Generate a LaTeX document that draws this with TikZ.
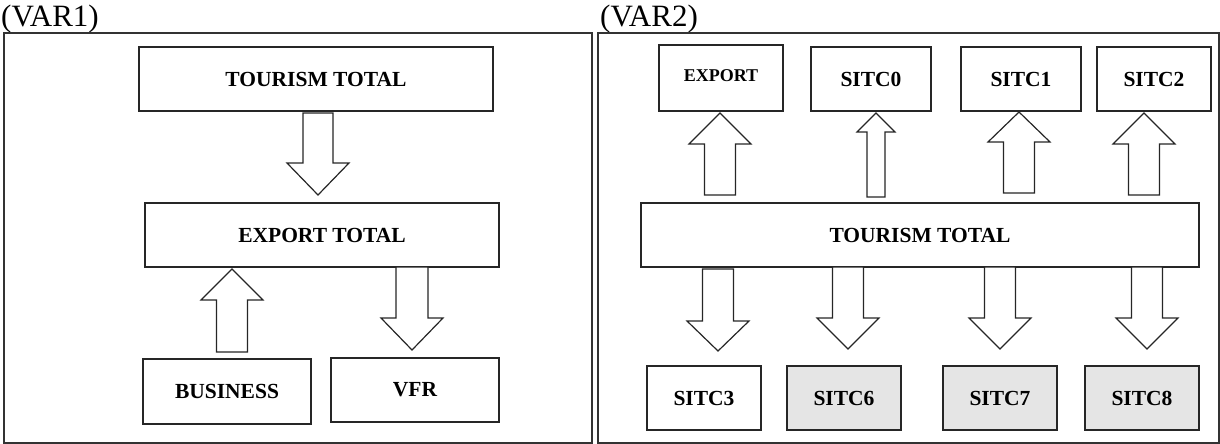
\documentclass[tikz,border=0pt]{standalone}
\usepackage{fontspec}
\setmainfont{Liberation Serif}
\tikzset{
  frame/.style={draw=black!80, line width=1.3pt},
  box/.style={draw=black!85, line width=1.2pt, fill=white, inner sep=0pt,
    font=\fontsize{21.5}{24}\selectfont\bfseries, align=center},
  graybox/.style={box, fill=black!10},
  blockarrow/.style={draw=black!85, line width=1.2pt, fill=white, line join=miter},
  panellabel/.style={anchor=base west, inner sep=0pt, font=\fontsize{31}{33}\selectfont}
}
% block arrow: #1 centre x, #2 tail y, #3 head-base y, #4 tip y, #5 shaft half width, #6 head half width
\newcommand{\blockarr}[6]{%
  \draw[blockarrow] (#1-#5,#2) -- (#1+#5,#2) -- (#1+#5,#3) -- (#1+#6,#3) -- (#1,#4)
    -- (#1-#6,#3) -- (#1-#5,#3) -- cycle;}
\begin{document}
\begin{tikzpicture}[x=1pt, y=-1pt]
\useasboundingbox (0,0) rectangle (1220,444);

% ---------- left panel ----------
\node[panellabel] (lab1) at (1,27) {(VAR1)};
\draw[frame] (4,33) rectangle (592,443);

\node[box, minimum width=354pt, minimum height=64pt] (tt1) at (316,79) {TOURISM TOTAL};
\node[box, minimum width=354pt, minimum height=64pt] (et1) at (322,235) {EXPORT TOTAL};
\node[box, minimum width=168pt, minimum height=65pt] (bus) at (227,391.5) {BUSINESS};
\node[box, minimum width=168pt, minimum height=64pt] (vfr) at (415,390) {VFR};

\blockarr{318}{113}{163}{195}{15}{31}
\blockarr{232}{352}{300}{269}{15.5}{31}
\blockarr{412}{267}{318}{350}{16}{31}

% ---------- right panel ----------
\node[panellabel] (lab2) at (600,27) {(VAR2)};
\draw[frame] (598,33) rectangle (1219,443);

\node[box, minimum width=124pt, minimum height=66pt, font=\fontsize{18}{20}\selectfont\bfseries,
      text depth=4pt] (exp) at (721,78) {EXPORT};
\node[box, minimum width=120pt, minimum height=64pt] (s0) at (871,79) {SITC0};
\node[box, minimum width=120pt, minimum height=64pt] (s1) at (1021,79) {SITC1};
\node[box, minimum width=114pt, minimum height=64pt] (s2) at (1154,79) {SITC2};

\node[box, minimum width=558pt, minimum height=64pt] (tt2) at (920,235) {TOURISM TOTAL};

\node[box, minimum width=114pt, minimum height=64pt] (s3) at (704,398) {SITC3};
\node[graybox, minimum width=114pt, minimum height=64pt] (s6) at (844,398) {SITC6};
\node[graybox, minimum width=114pt, minimum height=64pt] (s7) at (1000,398) {SITC7};
\node[graybox, minimum width=114pt, minimum height=64pt] (s8) at (1142,398) {SITC8};

% upward arrows from the total to the upper boxes
\blockarr{720}{195}{144}{113}{15.5}{31}
\blockarr{876}{197}{132}{113}{9}{19}
\blockarr{1019}{193}{142}{112}{15.5}{31}
\blockarr{1144}{195}{144}{113}{15.5}{31}

% downward arrows from the total to the lower boxes
\blockarr{718}{269}{321}{351}{15.5}{31}
\blockarr{848}{267}{318}{349}{15.5}{31}
\blockarr{1000}{267}{318}{349}{15.5}{31}
\blockarr{1147}{267}{318}{349}{15.5}{31}
\end{tikzpicture}
\end{document}
